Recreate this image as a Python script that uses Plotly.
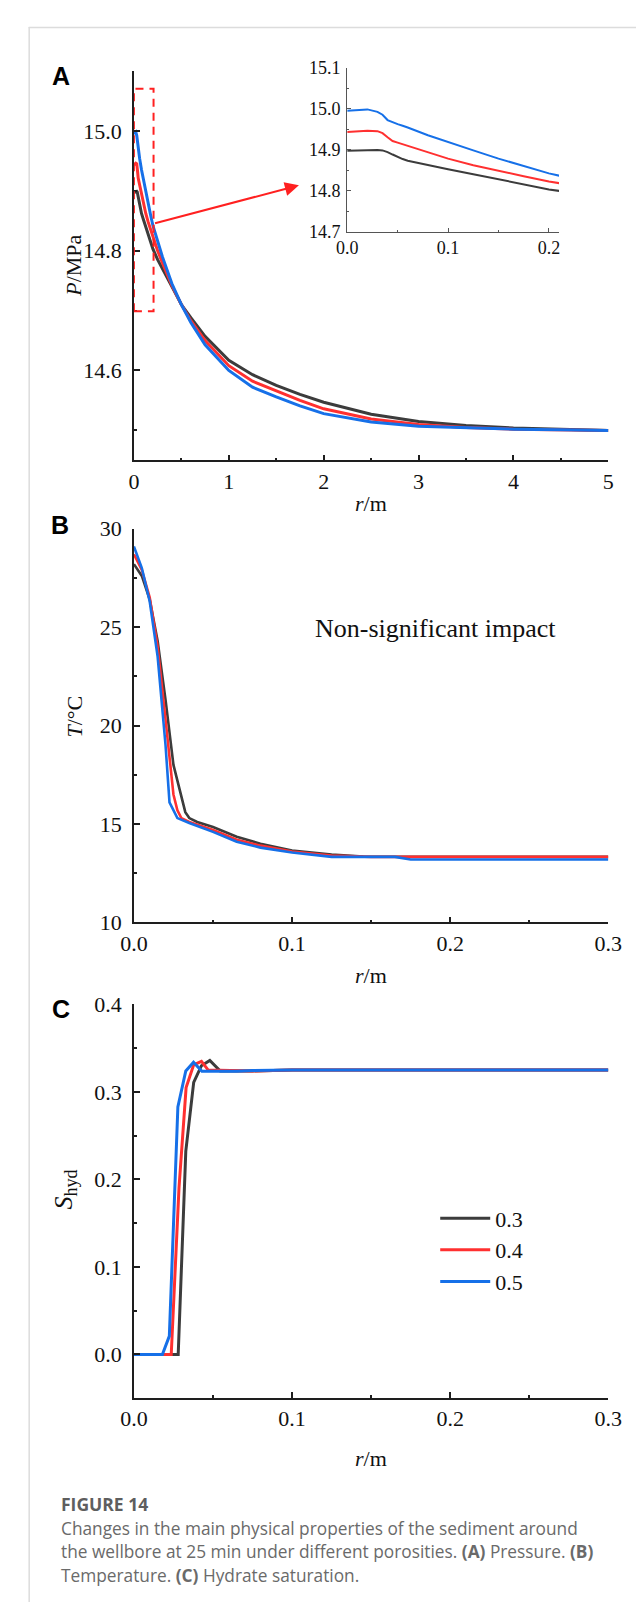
import plotly.graph_objects as go

W, H = 644, 1607

# ---------------- data ----------------
series_names = ["0.3", "0.4", "0.5"]
colors = ["#3c3c3c", "#ff3030", "#1670e8"]

# Panel A: pressure vs radius
r_P = [0, 0.01, 0.02, 0.03, 0.035, 0.04, 0.045, 0.05, 0.055, 0.06, 0.08, 0.1,
       0.125, 0.15, 0.175, 0.2, 0.25, 0.3, 0.4, 0.5, 0.6, 0.75, 1.0, 1.25, 1.5,
       1.75, 2.0, 2.5, 3.0, 3.5, 4.0, 4.5, 5.0]
P_03 = [14.897, 14.898, 14.899, 14.899, 14.898, 14.894, 14.888, 14.882, 14.877, 14.873,
        14.862, 14.852, 14.840, 14.828, 14.815, 14.803, 14.785, 14.770, 14.738, 14.710,
        14.688, 14.657, 14.617, 14.593, 14.575, 14.560, 14.547, 14.527, 14.515, 14.508,
        14.504, 14.502, 14.500]
P_04 = [14.943, 14.945, 14.946, 14.945, 14.940, 14.930, 14.921, 14.917, 14.913, 14.910,
        14.893, 14.878, 14.862, 14.848, 14.835, 14.822, 14.800, 14.780, 14.742, 14.710,
        14.683, 14.650, 14.608, 14.582, 14.566, 14.550, 14.536, 14.519, 14.510, 14.505,
        14.502, 14.501, 14.500]
P_05 = [14.995, 14.997, 14.998, 14.992, 14.985, 14.972, 14.966, 14.962, 14.958, 14.954,
        14.935, 14.918, 14.898, 14.878, 14.860, 14.842, 14.815, 14.790, 14.745, 14.710,
        14.680, 14.643, 14.600, 14.572, 14.556, 14.541, 14.528, 14.514, 14.507, 14.504,
        14.502, 14.501, 14.500]

# Panel B: temperature vs radius
r_T_03 = [0, 0.005, 0.01, 0.015, 0.02, 0.025, 0.0325, 0.035, 0.04, 0.05, 0.065, 0.08,
          0.1, 0.125, 0.145, 0.3]
T_03 = [28.2, 27.6, 26.4, 24.3, 21.3, 18.0, 15.6, 15.3, 15.1, 14.85, 14.35, 14.0,
        13.65, 13.45, 13.35, 13.33]
r_T_04 = [0, 0.005, 0.01, 0.015, 0.02, 0.025, 0.0275, 0.03, 0.035, 0.05, 0.065, 0.08,
          0.1, 0.125, 0.15, 0.3]
T_04 = [28.7, 27.9, 26.5, 24.0, 20.3, 16.5, 15.7, 15.3, 15.1, 14.7, 14.2, 13.9,
        13.6, 13.4, 13.33, 13.33]
r_T_05 = [0, 0.005, 0.01, 0.015, 0.02, 0.0225, 0.0275, 0.035, 0.05, 0.065, 0.08, 0.1,
          0.125, 0.165, 0.175, 0.3]
T_05 = [29.1, 28.0, 26.3, 23.5, 19.0, 16.1, 15.3, 15.05, 14.6, 14.1, 13.8, 13.55,
        13.33, 13.33, 13.2, 13.2]

# Panel C: hydrate saturation vs radius
r_S_03 = [0, 0.028, 0.0328, 0.0378, 0.0427, 0.048, 0.0546, 0.075, 0.1, 0.3]
S_03 = [0, 0, 0.232, 0.311, 0.330, 0.336, 0.324, 0.324, 0.325, 0.325]
r_S_04 = [0, 0.0236, 0.0285, 0.033, 0.0378, 0.0427, 0.047, 0.075, 0.1, 0.3]
S_04 = [0, 0, 0.19, 0.305, 0.331, 0.335, 0.325, 0.324, 0.325, 0.325]
r_S_05 = [0, 0.018, 0.0224, 0.0278, 0.0328, 0.0377, 0.043, 0.065, 0.075, 0.1, 0.3]
S_05 = [0, 0, 0.021, 0.283, 0.324, 0.334, 0.3236, 0.3236, 0.3245, 0.325, 0.325]

caption_title = "FIGURE 14"
caption_lines = [
    "Changes in the main physical properties of the sediment around",
    "the wellbore at 25 min under different porosities. <b>(A)</b> Pressure. <b>(B)</b>",
    "Temperature. <b>(C)</b> Hydrate saturation.",
]

# ---------------- helpers ----------------
def X(px):
    return px / W

def Y(py):
    return 1 - py / H

SERIF = "Liberation Serif"
AX = "#1e1e1e"

fig = go.Figure()

P_sets = [P_03, P_04, P_05]
for name, col, yv in zip(series_names, colors, P_sets):
    fig.add_trace(go.Scatter(x=r_P, y=yv, mode="lines", line=dict(color=col, width=3),
                             xaxis="x", yaxis="y", showlegend=False, name=name))
for name, col, yv in zip(series_names, colors, P_sets):
    fig.add_trace(go.Scatter(x=r_P, y=yv, mode="lines", line=dict(color=col, width=2),
                             xaxis="x2", yaxis="y2", showlegend=False, name=name))
for name, col, xv, yv in zip(series_names, colors, [r_T_03, r_T_04, r_T_05], [T_03, T_04, T_05]):
    fig.add_trace(go.Scatter(x=xv, y=yv, mode="lines", line=dict(color=col, width=2.6),
                             xaxis="x3", yaxis="y3", showlegend=False, name=name))
for name, col, xv, yv in zip(series_names, colors, [r_S_03, r_S_04, r_S_05], [S_03, S_04, S_05]):
    fig.add_trace(go.Scatter(x=xv, y=yv, mode="lines", line=dict(color=col, width=3),
                             xaxis="x4", yaxis="y4", showlegend=True, name=name))


def axis(domain, rng, dtick, minor_dtick, fmt, anchor, size=22, color=AX,
         ticklen=6, tick0=None, lw=1.6, standoff=0):
    d = dict(domain=domain, range=rng, anchor=anchor, showgrid=False, zeroline=False,
             showline=True, linecolor=color, linewidth=lw, ticks="inside", ticklen=ticklen,
             tickwidth=lw, tickcolor=color, dtick=dtick, tickformat=fmt,
             tickfont=dict(family=SERIF, size=size, color="#111"),
             ticklabelstandoff=standoff,
             minor=dict(ticks="inside", ticklen=max(2, ticklen // 2), tickwidth=lw,
                        tickcolor=color, dtick=minor_dtick, showgrid=False))
    if tick0 is not None:
        d["tick0"] = tick0
        d["minor"]["tick0"] = tick0
    return d


layout = dict(
    width=W, height=H, margin=dict(l=0, r=0, t=0, b=0),
    paper_bgcolor="white", plot_bgcolor="rgba(0,0,0,0)",
    xaxis=axis([X(117), X(613)], [0, 5], 1, 0.5, "d", "y"),
    yaxis=axis([Y(447.3), Y(51.7)], [14.45, 15.1], 0.2, 0.1, ".1f", "x", tick0=14.6,
               standoff=6),
    xaxis2=axis([X(340), X(561.4)], [0, 0.21], 0.1, 0.05, ".1f", "y2", size=18,
                color="#555", ticklen=4, lw=1.2),
    yaxis2=axis([Y(215), Y(48.3)], [14.7, 15.1], 0.1, 0.05, ".1f", "x2", size=18,
                color="#555", ticklen=4, lw=1.2, standoff=2),
    xaxis3=axis([X(117), X(613)], [0, 0.3], 0.1, 0.05, ".1f", "y3"),
    yaxis3=axis([Y(916.7), Y(516.7)], [10, 30], 5, 2.5, "d", "x3", standoff=6),
    xaxis4=axis([X(117), X(613)], [0, 0.3], 0.1, 0.05, ".1f", "y4"),
    yaxis4=axis([Y(1400), Y(1000)], [-0.05, 0.4], 0.1, 0.05, ".1f", "x4", tick0=0,
                standoff=6),
    legend=dict(x=X(432), y=Y(1196), xanchor="left", yanchor="top",
                font=dict(family=SERIF, size=22, color="#111"),
                bgcolor="rgba(0,0,0,0)", tracegroupgap=0, itemwidth=50),
    showlegend=True,
)
fig.update_layout(**layout)

# dashed zoom box and arrow in panel A
fig.add_shape(type="rect", xref="x", yref="y", x0=0, x1=0.207, y0=14.699, y1=15.07,
              line=dict(color="#ff2020", width=2, dash="8px,6px"), layer="above")

annotations = []
annotations.append(dict(xref="x", yref="y", axref="x", ayref="y", x=1.739, y=14.909,
                        ax=0.207, ay=14.845, text="", showarrow=True, arrowhead=2,
                        arrowsize=1.4, arrowwidth=2, arrowcolor="#ff2020", standoff=0))


def ann(txt, px, py, size=22, family=SERIF, xanchor="center", yanchor="middle",
        color="#111", angle=0):
    annotations.append(dict(xref="paper", yref="paper", x=X(px), y=Y(py), text=txt,
                            showarrow=False, xanchor=xanchor, yanchor=yanchor,
                            textangle=angle,
                            font=dict(family=family, size=size, color=color)))

# panel letters
ann("<b>A</b>", 41, 57, size=25, family="Liberation Sans", color="#000")
ann("<b>B</b>", 40, 513, size=25, family="Liberation Sans", color="#000")
ann("<b>C</b>", 41, 1005, size=25, family="Liberation Sans", color="#000")

# axis titles
ann("<i>P</i>/MPa", 53, 250, angle=-90)
ann("<i>r</i>/m", 365, 491)
ann("<i>T</i>/°C", 55, 708, angle=-90)
ann("<i>r</i>/m", 365, 971)
ann("<i>S</i><sub>hyd</sub>", 44, 1188, size=26, angle=-90)
ann("<i>r</i>/m", 365, 1461)

ann("Non-significant impact", 432, 618, size=26)

# caption
ann("<b>" + caption_title + "</b>", 39, 1507, size=17.5, family="Open Sans",
    xanchor="left", color="#5e5e5e")
for i, line in enumerate(caption_lines):
    ann(line, 39, 1532 + 24 * i, size=17.3, family="Open Sans", xanchor="left",
        color="#6a6a6a")

fig.update_layout(annotations=annotations)

# card border (top and left)
fig.add_shape(type="line", xref="paper", yref="paper", x0=X(7), x1=1, y0=Y(7.5), y1=Y(7.5),
              line=dict(color="#dcdcdc", width=1.5))
fig.add_shape(type="line", xref="paper", yref="paper", x0=X(7.5), x1=X(7.5), y0=0, y1=Y(7),
              line=dict(color="#dcdcdc", width=1.5))

fig.write_html("out.html")
